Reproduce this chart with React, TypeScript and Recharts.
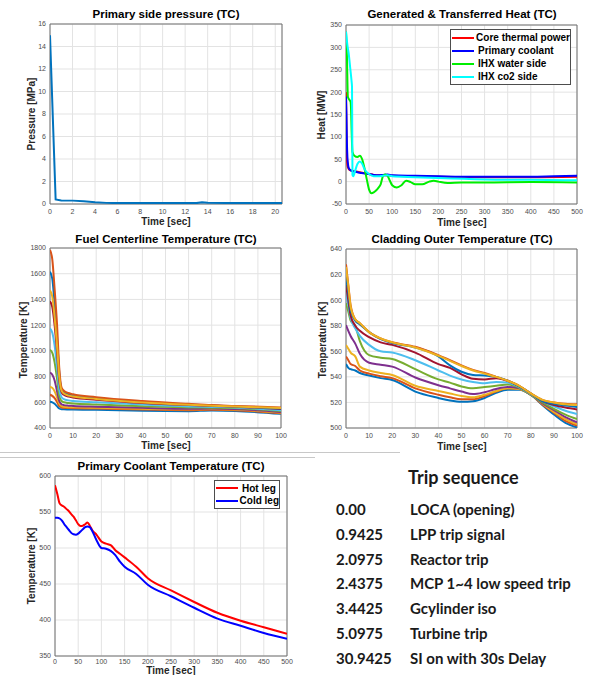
import React from "react";
import { LineChart, Line, XAxis, YAxis, CartesianGrid, ReferenceArea, Legend } from "recharts";

// primary side pressure
const pressureTime = [0, 0.5, 1, 2, 3, 4, 5, 6, 10, 13, 13.5, 14, 16, 20, 20.6];
const pressureMPa = [15, 0.4, 0.32, 0.3, 0.25, 0.15, 0.1, 0.08, 0.08, 0.08, 0.15, 0.12, 0.08, 0.08, 0.1];
const pressureTicksX = [0, 2, 4, 6, 8, 10, 12, 14, 16, 18, 20];
const pressureTicksY = [0, 2, 4, 6, 8, 10, 12, 14, 16];

// generated & transferred heat
const heatSeries = ["Core thermal power", "Primary coolant", "IHX water side", "IHX co2 side"];
const coreTime = [0, 1, 2, 3, 5, 8, 10, 15, 20, 30, 40, 50, 60, 70, 80, 100, 150, 200, 300, 400, 500];
const corePower = [200, 110, 55, 38, 30, 26, 25, 24, 23, 21, 19, 17, 15, 14, 14, 13, 12, 11, 10, 10, 11];
const coolantTime = [0, 1, 2, 3, 4, 6, 10, 20, 30, 40, 50, 60, 70, 80, 90, 100, 150, 200, 250, 300, 400, 450, 500];
const coolantHeat = [190, 150, 85, 55, 42, 30, 25, 22, 20, 18, 17, 15, 14, 15, 16, 14, 13, 12, 11, 11, 11, 12, 13];
const waterTime = [0, 2, 4, 6, 8, 10, 11, 12, 13, 14, 18, 25, 30, 35, 40, 45, 50, 55, 60, 65, 70, 75, 80, 85, 90, 95, 100, 110, 120, 130, 140, 150, 165, 180, 190, 200, 220, 250, 300, 400, 500];
const waterHeat = [335, 280, 190, 185, 182, 178, 160, 120, 85, 66, 58, 55, 58, 50, 30, 5, -18, -26, -24, -20, -14, -6, 12, 16, 13, 2, -8, -13, -8, 2, -1, -6, -6, 0, 2, 0, -3, -2, -2, -1, -2];
const co2Time = [0, 3, 6, 9, 12, 13, 13.5, 14, 16, 20, 25, 30, 35, 40, 50, 60, 70, 80, 90, 100, 150, 200, 300, 400, 500];
const co2Heat = [335, 305, 285, 255, 225, 212, 120, 15, 12, 25, 40, 45, 40, 28, 17, 12, 12, 13, 14, 12, 10, 8, 5, 4, 3];
const heatTicksX = [0, 50, 100, 150, 200, 250, 300, 350, 400, 450, 500];
const heatTicksY = [-50, 0, 50, 100, 150, 200, 250, 300, 350];

// fuel centerline temperature, 10 axial nodes
const fuelTime = [0, 1, 2, 3, 4, 5, 6, 8, 10, 20, 40, 60, 70, 80, 100];
const fuelNodes = [
  [605, 600, 588, 570, 552, 546, 545, 544, 543, 541, 534, 531, 536, 533, 510],
  [658, 650, 632, 605, 572, 560, 557, 555, 554, 551, 543, 539, 542, 539, 515],
  [722, 712, 685, 640, 590, 570, 565, 562, 561, 557, 550, 545, 547, 544, 520],
  [830, 815, 770, 690, 610, 585, 578, 574, 572, 566, 557, 550, 551, 548, 525],
  [1008, 985, 910, 790, 650, 610, 600, 594, 590, 582, 570, 560, 558, 555, 532],
  [1175, 1140, 1040, 880, 700, 640, 625, 615, 610, 600, 582, 568, 564, 560, 538],
  [1385, 1340, 1200, 1000, 770, 680, 658, 644, 637, 620, 595, 578, 571, 566, 548],
  [1615, 1560, 1360, 1120, 830, 700, 678, 662, 652, 632, 603, 583, 575, 568, 552],
  [1785, 1710, 1480, 1220, 870, 715, 690, 672, 662, 640, 610, 588, 578, 572, 560],
  [1470, 1420, 1260, 1050, 800, 690, 668, 652, 645, 626, 598, 580, 573, 567, 555],
];
const fuelTicksY = [400, 600, 800, 1000, 1200, 1400, 1600, 1800];

// cladding outer temperature, same nodes
const cladTime = [0, 1, 2, 4, 6, 10, 15, 20, 30, 40, 45, 50, 55, 60, 65, 70, 75, 80, 85, 90, 95, 100];
const cladNodes = [
  [550, 547, 546, 545, 543, 541, 539, 537.5, 528.5, 523.5, 521.5, 520.5, 521, 523.5, 527.5, 530, 530, 526, 518, 510.5, 504, 500.5],
  [556, 553, 550, 548.5, 545, 542.5, 540.5, 539, 531, 526, 524, 522.5, 522.5, 525, 528.5, 531, 530.5, 526, 518.5, 512, 505.5, 502],
  [565, 562, 559, 556, 548, 545, 543, 541.5, 533, 529, 527, 525, 524, 526, 529, 531, 530.5, 526, 519, 512.5, 507, 503],
  [580.5, 576, 572, 566, 558, 551, 549.5, 548, 539.5, 533.5, 531, 528.5, 526.5, 528, 530.5, 532, 531, 526, 519.5, 514, 508.5, 504.5],
  [597.5, 591, 584, 580, 568, 557, 555, 554, 546, 538, 535.5, 532.5, 531, 532, 533, 534, 531.5, 526, 520, 515, 510.5, 507],
  [606, 596, 586, 578, 572, 565, 560, 559, 553, 545, 541, 538, 536, 535, 536, 535.5, 532, 526.5, 521, 517, 513.5, 511],
  [612, 600, 588, 580, 576, 571, 567, 565, 559, 550, 547, 542, 538.5, 538, 539, 537, 532.5, 527, 521, 518, 516, 514.5],
  [618, 606, 592, 584, 581, 575, 569.5, 566.5, 563, 556, 549, 544, 541.5, 541, 540, 537, 532.5, 527, 521, 519, 517.5, 516.5],
  [628, 612, 596, 585, 582, 575, 570, 567, 563.5, 557, 553, 549, 545.5, 543, 540, 537, 533, 527, 522, 520, 519, 518.5],
  [626, 611, 595, 585, 582, 575, 570, 567, 563, 556.5, 552.5, 548.5, 545, 542.5, 540, 537, 533, 527, 522, 520, 518.5, 518],
];
const cladTicksY = [500, 520, 540, 560, 580, 600, 620, 640];
const secTicks100 = [0, 10, 20, 30, 40, 50, 60, 70, 80, 90, 100];
const nodeColors = ["#0072BD", "#D95319", "#EDB120", "#7E2F8E", "#77AC30", "#4DBEEE", "#A2142F", "#0072BD", "#D95319", "#EDB120"];

// primary coolant temperature
const legSeries = ["Hot leg", "Cold leg"];
const legTime = [0, 5, 10, 15, 20, 25, 30, 35, 40, 45, 50, 55, 60, 65, 70, 75, 80, 90, 100, 110, 120, 130, 140, 150, 175, 200, 250, 300, 350, 400, 450, 500];
const hotLeg = [587, 575, 562, 559, 557, 554, 551, 547, 543.5, 538.5, 533, 530.5, 531, 533, 535.5, 531, 525, 518, 509, 506, 504, 497, 492, 487, 474, 458, 441, 425, 410, 399, 390, 381];
const coldLeg = [542, 542, 541, 538, 533, 529, 525, 521, 519, 518.5, 520, 523, 526, 529, 530, 529, 524, 510, 500, 499, 496, 490, 481, 474, 464, 449, 433, 417, 402, 392, 382, 374];
const legTicksY = [350, 400, 450, 500, 550, 600];

// trip sequence
const tripTimes = ["0.00", "0.9425", "2.0975", "2.4375", "3.4425", "5.0975", "30.9425"];
const tripEvents = ["LOCA (opening)", "LPP trip signal", "Reactor trip", "MCP 1~4 low speed trip", "Gcylinder iso", "Turbine trip", "SI on with 30s Delay"];

const FONT = "'Liberation Sans', Arial, sans-serif";
const tickStyle = { fontSize: 7, fill: "#4d4d4d", fontFamily: FONT };
const BOX = "#707070";
const GRID = "#e3e3e3";

const zip = (xs: number[], ys: number[]) => xs.map((t, i) => ({ t, v: ys[i] }));
const nodeRows = (time: number[], nodes: number[][]) =>
  time.map((t, i) => {
    const row: Record<string, number> = { t };
    nodes.forEach((s, k) => (row["n" + k] = s[i]));
    return row;
  });

const pressureData = zip(pressureTime, pressureMPa);
const fuelData = nodeRows(fuelTime, fuelNodes);
const cladData = nodeRows(cladTime, cladNodes);
const legData = legTime.map((t, i) => ({ t, hot: hotLeg[i], cold: coldLeg[i] }));

const title: React.CSSProperties = {
  position: "absolute",
  transform: "translate(-50%,-50%)",
  whiteSpace: "nowrap",
  fontFamily: FONT,
  fontWeight: 700,
  fontSize: 11.5,
  lineHeight: 1,
  color: "#000",
};
const axisLabel: React.CSSProperties = { ...title, fontSize: 10, color: "#262626" };
const yLabel: React.CSSProperties = { ...axisLabel, transform: "translate(-50%,-50%) rotate(-90deg)" };
const tripText: React.CSSProperties = {
  position: "absolute",
  transform: "translateY(-50%)",
  fontFamily: "Lato, sans-serif",
  fontWeight: 700,
  fontSize: 15,
  lineHeight: 1,
  color: "#1a1a1a",
  whiteSpace: "nowrap",
};

function MatlabLegend({ payload, width, rowH, order }: any) {
  const items = [...(payload || [])].sort((a: any, b: any) => order.indexOf(a.value) - order.indexOf(b.value));
  return (
    <div style={{ width, boxSizing: "border-box", border: "1px solid #4d4d4d", background: "#fff", padding: "1px 0" }}>
      {items.map((p: any) => (
        <div key={p.value} style={{ display: "flex", alignItems: "center", height: rowH, fontFamily: FONT, fontWeight: 700, fontSize: 10, color: "#000", whiteSpace: "nowrap" }}>
          <svg width={24} height={4} style={{ marginLeft: 1, marginRight: 2 }}>
            <line x1={0} x2={22} y1={2} y2={2} stroke={p.color} strokeWidth={2} />
          </svg>
          <span>{p.value}</span>
        </div>
      ))}
    </div>
  );
}

function Box({ x, y }: { x: [number, number]; y: [number, number] }) {
  return <ReferenceArea x1={x[0]} x2={x[1]} y1={y[0]} y2={y[1]} fill="none" stroke={BOX} strokeWidth={1} ifOverflow="visible" />;
}

function axes(xDomain: [number, number], xTicks: number[], yDomain: [number, number], yTicks: number[], xGap = 3) {
  return [
    <CartesianGrid key="g" stroke={GRID} />,
    <XAxis key="x" type="number" dataKey="t" domain={xDomain} ticks={xTicks} interval={0} allowDataOverflow
      height={16} tickLine={false} axisLine={false} tickSize={xGap} tickMargin={2} tick={tickStyle} />,
    <YAxis key="y" type="number" domain={yDomain} ticks={yTicks} interval={0} allowDataOverflow
      width={30} tickLine={false} axisLine={false} tickSize={2} tickMargin={2} tick={tickStyle} />,
  ];
}

export default function App() {
  return (
    <div style={{ position: "absolute", left: 0, top: 0, width: 608, height: 675, overflow: "hidden", background: "#fff" }}>
      {/* Primary side pressure */}
      <div style={{ position: "absolute", left: 0, top: 0 }}>
        <LineChart width={300} height={240} data={pressureData} margin={{ top: 24, right: 18, bottom: 20, left: 20 }}>
          {axes([0, 20.6], pressureTicksX, [0, 16], pressureTicksY)}
          <Box x={[0, 20.6]} y={[0, 16]} />
          <Line type="linear" dataKey="v" stroke="#0072BD" strokeWidth={2} dot={false} isAnimationActive={false} />
        </LineChart>
      </div>
      <div style={{ ...title, left: 166, top: 15 }}>Primary side pressure (TC)</div>
      <div style={{ ...axisLabel, left: 166, top: 222 }}>Time [sec]</div>
      <div style={{ ...yLabel, left: 32, top: 114 }}>Pressure [MPa]</div>

      {/* Generated & transferred heat */}
      <div style={{ position: "absolute", left: 300, top: 0 }}>
        <LineChart width={300} height={240} margin={{ top: 25, right: 23, bottom: 20, left: 16 }}>
          {axes([0, 500], heatTicksX, [-50, 350], heatTicksY)}
          <Box x={[0, 500]} y={[-50, 350]} />
          <Line data={zip(coreTime, corePower)} type="monotone" dataKey="v" name={heatSeries[0]} stroke="#FF0000" strokeWidth={2} dot={false} isAnimationActive={false} />
          <Line data={zip(coolantTime, coolantHeat)} type="monotone" dataKey="v" name={heatSeries[1]} stroke="#0000FF" strokeWidth={2} dot={false} isAnimationActive={false} />
          <Line data={zip(waterTime, waterHeat)} type="monotone" dataKey="v" name={heatSeries[2]} stroke="#00EE00" strokeWidth={2} dot={false} isAnimationActive={false} />
          <Line data={zip(co2Time, co2Heat)} type="monotone" dataKey="v" name={heatSeries[3]} stroke="#00FFFF" strokeWidth={2} dot={false} isAnimationActive={false} />
          <Legend layout="vertical" align="center" verticalAlign="middle"
            wrapperStyle={{ left: 150, top: 29, width: 121, height: "auto" }}
            content={(p: any) => <MatlabLegend payload={p.payload} width={121} rowH={13} order={heatSeries} />} />
        </LineChart>
      </div>
      <div style={{ ...title, left: 462, top: 15 }}>Generated &amp; Transferred Heat (TC)</div>
      <div style={{ ...axisLabel, left: 462, top: 223 }}>Time [sec]</div>
      <div style={{ ...yLabel, left: 322, top: 115 }}>Heat [MW]</div>

      {/* Fuel centerline temperature */}
      <div style={{ position: "absolute", left: 0, top: 230 }}>
        <LineChart width={300} height={240} data={fuelData} margin={{ top: 18, right: 19, bottom: 26, left: 20 }}>
          {axes([0, 100], secTicks100, [400, 1800], fuelTicksY)}
          <Box x={[0, 100]} y={[400, 1800]} />
          {fuelNodes.map((_, k) => (
            <Line key={k} type="monotone" dataKey={"n" + k} stroke={nodeColors[k]} strokeWidth={2} dot={false} isAnimationActive={false} />
          ))}
        </LineChart>
      </div>
      <div style={{ ...title, left: 166, top: 240 }}>Fuel Centerline Temperature (TC)</div>
      <div style={{ ...axisLabel, left: 166, top: 446 }}>Time [sec]</div>
      <div style={{ ...yLabel, left: 24, top: 340 }}>Temperature [K]</div>

      {/* Cladding outer temperature */}
      <div style={{ position: "absolute", left: 300, top: 230 }}>
        <LineChart width={300} height={240} data={cladData} margin={{ top: 19, right: 23, bottom: 26, left: 16 }}>
          {axes([0, 100], secTicks100, [500, 640], cladTicksY)}
          <Box x={[0, 100]} y={[500, 640]} />
          {cladNodes.map((_, k) => (
            <Line key={k} type="monotone" dataKey={"n" + k} stroke={nodeColors[k]} strokeWidth={2} dot={false} isAnimationActive={false} />
          ))}
        </LineChart>
      </div>
      <div style={{ ...title, left: 462, top: 240 }}>Cladding Outer Temperature (TC)</div>
      <div style={{ ...axisLabel, left: 462, top: 447 }}>Time [sec]</div>
      <div style={{ ...yLabel, left: 323, top: 340 }}>Temperature [K]</div>

      {/* collage separators */}
      <div style={{ position: "absolute", left: 0, top: 452, width: 400, height: 1, background: "#c8c8c8" }} />
      <div style={{ position: "absolute", left: 0, top: 457, width: 315, height: 1, background: "#c8c8c8" }} />

      {/* Primary coolant temperature */}
      <div style={{ position: "absolute", left: 0, top: 460 }}>
        <LineChart width={300} height={215} data={legData} margin={{ top: 16, right: 13, bottom: 3, left: 25 }}>
          {axes([0, 500], heatTicksX, [350, 600], legTicksY, 1)}
          <Box x={[0, 500]} y={[350, 600]} />
          <Line type="monotone" dataKey="hot" name={legSeries[0]} stroke="#FF0000" strokeWidth={2} dot={false} isAnimationActive={false} />
          <Line type="monotone" dataKey="cold" name={legSeries[1]} stroke="#0000FF" strokeWidth={2} dot={false} isAnimationActive={false} />
          <Legend layout="vertical" align="center" verticalAlign="middle"
            wrapperStyle={{ left: 214, top: 20, width: 66, height: "auto" }}
            content={(p: any) => <MatlabLegend payload={p.payload} width={66} rowH={12.5} order={legSeries} />} />
        </LineChart>
      </div>
      <div style={{ ...title, left: 171, top: 467 }}>Primary Coolant Temperature (TC)</div>
      <div style={{ ...axisLabel, left: 171, top: 671 }}>Time [sec]</div>
      <div style={{ ...yLabel, left: 32, top: 566 }}>Temperature [K]</div>

      {/* Trip sequence */}
      <div style={{ ...tripText, left: 408, top: 477, fontSize: 18 }}>Trip sequence</div>
      {tripTimes.map((t, i) => (
        <React.Fragment key={t}>
          <div style={{ ...tripText, left: 336, top: 509 + i * 24.8 }}>{t}</div>
          <div style={{ ...tripText, left: 410, top: 509 + i * 24.8 }}>{tripEvents[i]}</div>
        </React.Fragment>
      ))}
    </div>
  );
}
